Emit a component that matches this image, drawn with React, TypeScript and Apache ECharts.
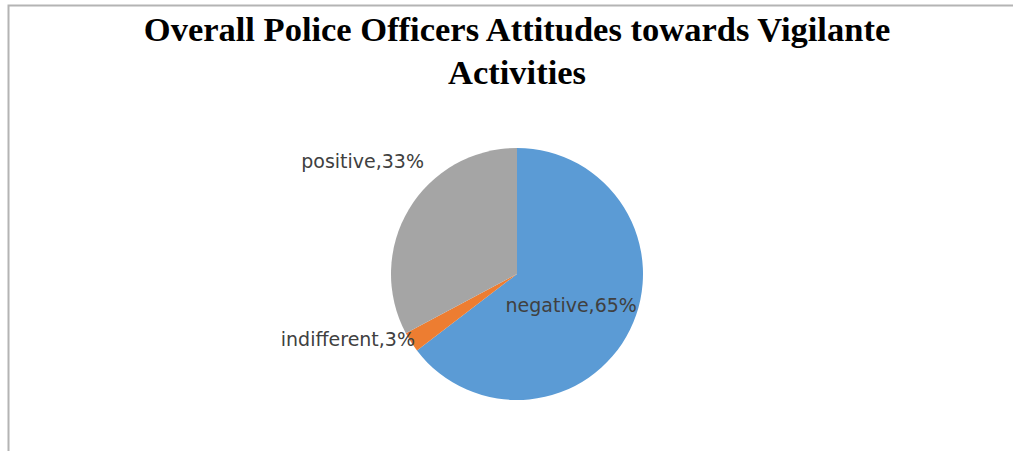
import React, { useEffect, useRef } from "react";
import * as echarts from "echarts";

const categories = ["negative", "indifferent", "positive"];
const shares = [64.6, 2.6, 32.8];
const colors = ["#5B9BD5", "#ED7D31", "#A5A5A5"];
const titleLines = ["Overall Police Officers Attitudes towards Vigilante", "Activities"];

export default function App() {
  const ref = useRef<HTMLDivElement>(null);
  useEffect(() => {
    if (!ref.current) return;
    const chart = echarts.init(ref.current, null, { renderer: "svg" });
    const outsidePos: Record<number, { x: number; y: number }> = {
      1: { x: 415, y: 339 },
      2: { x: 424, y: 161 },
    };
    chart.setOption({
      animation: false,
      backgroundColor: "#ffffff",
      title: {
        text: titleLines.join("\n"),
        left: 517,
        textAlign: "center",
        top: 7,
        padding: 0,
        textStyle: {
          fontFamily: "Liberation Serif",
          fontWeight: "bold",
          fontSize: 34.5,
          lineHeight: 43,
          color: "#000000",
        },
      },
      graphic: [
        {
          type: "rect",
          silent: true,
          shape: { x: 8.5, y: 5.5, width: 1100, height: 500 },
          style: { fill: "none", stroke: "#B4B4B4", lineWidth: 2 },
        },
      ],
      series: [
        {
          type: "pie",
          center: [517, 274],
          radius: 126,
          startAngle: 90,
          clockwise: true,
          avoidLabelOverlap: false,
          itemStyle: { borderWidth: 0 },
          label: {
            fontFamily: "DejaVu Sans",
            fontSize: 19,
            color: "#404040",
            formatter: (p: any) => `${p.name},${Math.round(p.percent)}%`,
          },
          labelLine: { show: false },
          labelLayout: (params: any) => {
            const pos = outsidePos[params.dataIndex];
            if (!pos) return { dx: -5, dy: 2 };
            return { x: pos.x, y: pos.y, align: "right", verticalAlign: "middle" };
          },
          data: categories.map((name, i) => ({
            name,
            value: shares[i],
            itemStyle: { color: colors[i] },
            label: { position: i === 0 ? "inside" : "outside" },
          })),
        },
      ],
    });
    return () => chart.dispose();
  }, []);
  return (
    <div
      ref={ref}
      style={{ position: "fixed", left: 0, top: 0, width: 1013, height: 451 }}
    />
  );
}
